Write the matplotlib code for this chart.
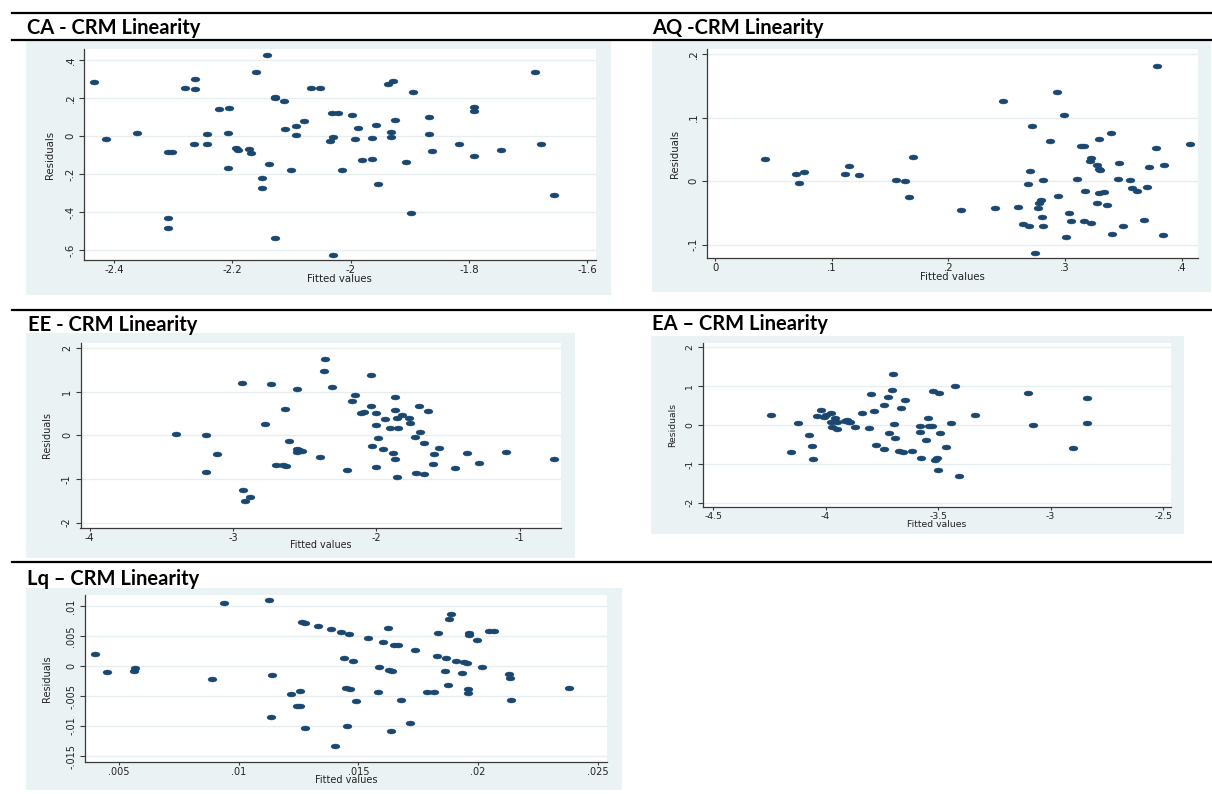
import numpy as np
import matplotlib
matplotlib.use("Agg")
import matplotlib.pyplot as plt
from matplotlib.path import Path
from matplotlib.patches import Rectangle
from matplotlib.lines import Line2D

# ---------------- data ----------------
ca_x = [-2.434, -2.413, -2.361, -2.308, -2.302, -2.308, -2.308, -2.280, -2.263, -2.263,
        -2.264, -2.242, -2.242, -2.222, -2.205, -2.207, -2.207, -2.193, -2.191, -2.171,
        -2.169, -2.159, -2.141, -2.138, -2.150, -2.150, -2.128, -2.127, -2.113, -2.110,
        -2.128, -2.101, -2.092, -2.092, -2.078, -2.067, -2.052, -2.031, -2.022, -2.030,
        -2.035, -2.030, -2.015, -1.997, -1.987, -1.993, -1.981, -1.964, -1.963, -1.957,
        -1.953, -1.937, -1.929, -1.931, -1.932, -1.925, -1.906, -1.898, -1.894, -1.867,
        -1.868, -1.863, -1.816, -1.791, -1.792, -1.791, -1.746, -1.688, -1.678, -1.656]
ca_y = [0.284, -0.016, 0.016, -0.084, -0.082, -0.430, -0.481, 0.253, 0.300, 0.247,
        -0.039, 0.012, -0.039, 0.144, 0.146, 0.018, -0.167, -0.060, -0.072, -0.068,
        -0.089, 0.337, 0.428, -0.146, -0.221, -0.272, 0.205, 0.198, 0.184, 0.037,
        -0.535, -0.177, 0.054, 0.004, 0.077, 0.254, 0.254, 0.119, 0.119, -0.004,
        -0.023, -0.623, -0.179, 0.111, 0.044, -0.016, -0.123, -0.121, -0.009, 0.060,
        -0.253, 0.275, 0.289, 0.023, -0.007, 0.084, -0.135, -0.404, 0.232, 0.100,
        0.009, -0.077, -0.042, 0.154, 0.130, -0.105, -0.074, 0.339, -0.039, -0.311]

aq_x = [0.043, 0.069, 0.076, 0.072, 0.111, 0.115, 0.123, 0.155, 0.163, 0.166,
        0.170, 0.211, 0.240, 0.247, 0.260, 0.264, 0.269, 0.268, 0.270, 0.272,
        0.274, 0.277, 0.278, 0.279, 0.280, 0.281, 0.281, 0.287, 0.293, 0.294,
        0.299, 0.301, 0.303, 0.305, 0.310, 0.314, 0.316, 0.316, 0.317, 0.321,
        0.322, 0.322, 0.327, 0.329, 0.330, 0.327, 0.329, 0.329, 0.333, 0.336,
        0.339, 0.340, 0.346, 0.345, 0.350, 0.356, 0.357, 0.362, 0.368, 0.370,
        0.372, 0.378, 0.379, 0.385, 0.384, 0.407]
aq_y = [0.035, 0.012, 0.014, -0.003, 0.012, 0.024, 0.010, 0.001, 0.000, -0.025,
        0.038, -0.045, -0.042, 0.126, -0.040, -0.067, -0.070, -0.004, 0.016, 0.087,
        -0.113, -0.043, -0.035, -0.030, -0.056, -0.070, 0.002, 0.063, 0.141, -0.023,
        0.104, -0.088, -0.050, -0.062, 0.003, 0.055, 0.056, -0.062, -0.015, 0.031,
        0.037, -0.066, 0.025, 0.019, 0.018, -0.034, 0.067, -0.018, -0.017, -0.038,
        0.076, -0.084, 0.029, 0.004, -0.071, 0.002, -0.011, -0.016, -0.061, -0.010,
        0.022, 0.052, 0.182, 0.025, -0.085, 0.058]

ee_x = [-3.398, -3.188, -3.188, -3.108, -2.939, -2.928, -2.917, -2.884, -2.776, -2.732,
        -2.699, -2.652, -2.627, -2.638, -2.608, -2.555, -2.552, -2.539, -2.517, -2.552,
        -2.392, -2.359, -2.362, -2.309, -2.202, -2.171, -2.146, -2.105, -2.083, -2.039,
        -2.039, -2.033, -2.003, -2.000, -1.992, -2.000, -1.956, -1.939, -1.903, -1.881,
        -1.873, -1.867, -1.867, -1.856, -1.851, -1.856, -1.823, -1.773, -1.768, -1.732,
        -1.727, -1.704, -1.696, -1.666, -1.669, -1.638, -1.599, -1.605, -1.566, -1.453,
        -1.367, -1.287, -1.099, -0.765]
ee_y = [0.038, 0.000, -0.840, -0.435, 1.191, -1.252, -1.504, -1.412, 0.260, 1.168,
        -0.687, -0.672, -0.702, 0.595, -0.122, -0.313, -0.382, -0.344, -0.351, 1.053,
        -0.504, 1.748, 1.466, 1.099, -0.794, 0.786, 0.931, 0.504, 0.542, 1.389,
        0.664, -0.237, 0.504, 0.237, -0.053, -0.725, -0.321, 0.382, 0.168, -0.412,
        -0.542, 0.885, 0.573, 0.389, 0.160, -0.962, 0.466, 0.397, 0.290, -0.038,
        -0.870, 0.664, 0.069, -0.176, -0.878, 0.557, -0.427, -0.649, -0.282, -0.748,
        -0.405, -0.634, -0.382, -0.550]

ea_x = [-4.244, -4.155, -4.121, -4.074, -4.059, -4.056, -4.037, -4.022, -4.005, -3.999,
        -3.977, -3.974, -3.970, -3.957, -3.950, -3.948, -3.913, -3.905, -3.896, -3.890,
        -3.871, -3.838, -3.809, -3.797, -3.784, -3.775, -3.740, -3.740, -3.723, -3.718,
        -3.707, -3.700, -3.695, -3.693, -3.673, -3.665, -3.656, -3.649, -3.614, -3.579,
        -3.579, -3.576, -3.552, -3.545, -3.540, -3.527, -3.524, -3.515, -3.505, -3.502,
        -3.495, -3.490, -3.463, -3.441, -3.423, -3.406, -3.334, -3.099, -3.079, -2.900,
        -2.838, -2.838]
ea_y = [0.257, -0.685, 0.051, -0.248, -0.548, -0.882, 0.231, 0.377, 0.214, 0.248,
        0.086, 0.308, -0.043, 0.188, 0.086, -0.094, 0.103, 0.120, 0.086, 0.086,
        -0.051, 0.308, -0.069, 0.797, 0.360, -0.514, 0.514, -0.608, 0.719, -0.197,
        0.891, 1.302, 0.017, -0.325, -0.677, 0.428, -0.694, 0.651, -0.668, -0.017,
        -0.188, -0.848, -0.385, 0.188, -0.017, -0.026, 0.865, -0.908, -0.857, -1.165,
        0.822, -0.214, -0.557, 0.051, 0.994, -1.310, 0.248, 0.814, -0.009, -0.591,
        0.685, 0.043]

lq_x = [0.00397, 0.00449, 0.00561, 0.00566, 0.00887, 0.00937, 0.01126, 0.01138, 0.01133, 0.01217,
        0.01245, 0.01257, 0.01257, 0.01266, 0.01276, 0.01278, 0.01333, 0.01386, 0.01404, 0.01428,
        0.01438, 0.01448, 0.01464, 0.01453, 0.01462, 0.01478, 0.01490, 0.01540, 0.01581, 0.01584,
        0.01602, 0.01622, 0.01627, 0.01641, 0.01636, 0.01650, 0.01664, 0.01679, 0.01715, 0.01738,
        0.01786, 0.01817, 0.01829, 0.01834, 0.01860, 0.01865, 0.01876, 0.01877, 0.01888, 0.01910,
        0.01932, 0.01941, 0.01953, 0.01957, 0.01957, 0.01963, 0.01963, 0.01996, 0.02017, 0.02044,
        0.02065, 0.02130, 0.02132, 0.02136, 0.02382]
lq_y = [0.00210, -0.00094, -0.00072, -0.00022, -0.00221, 0.01062, 0.01112, -0.00149, -0.00841, -0.00465,
        -0.00669, -0.00658, -0.00409, 0.00736, 0.00725, -0.01034, 0.00669, 0.00619, -0.01338, 0.00575,
        0.00133, -0.00360, -0.00387, -0.00996, 0.00542, 0.00088, -0.00586, 0.00465, -0.00437, -0.00017,
        0.00404, 0.00631, -0.00066, -0.00072, -0.01079, 0.00360, 0.00348, -0.00564, -0.00946, 0.00265,
        -0.00431, -0.00426, 0.00177, 0.00548, -0.00083, 0.00144, -0.00310, 0.00785, 0.00874, 0.00094,
        -0.00105, 0.00066, 0.00055, -0.00387, -0.00454, 0.00553, 0.00520, 0.00437, -0.00011, 0.00592,
        0.00592, -0.00122, -0.00199, -0.00570, -0.00371]

titles = ["CA - CRM Linearity", "AQ -CRM Linearity", "EE - CRM Linearity",
          "EA \u2013 CRM Linearity", "Lq \u2013 CRM Linearity"]

ca_xticks = [-2.4, -2.2, -2.0, -1.8, -1.6]
ca_xlabels = ["-2.4", "-2.2", "-2", "-1.8", "-1.6"]
ca_yticks = [0.4, 0.2, 0.0, -0.2, -0.4, -0.6]
ca_ylabels = [".4", ".2", "0", "-.2", "-.4", "-.6"]

aq_xticks = [0.0, 0.1, 0.2, 0.3, 0.4]
aq_xlabels = ["0", ".1", ".2", ".3", ".4"]
aq_yticks = [0.2, 0.1, 0.0, -0.1]
aq_ylabels = [".2", ".1", "0", "-.1"]

ee_xticks = [-4, -3, -2, -1]
ee_xlabels = ["-4", "-3", "-2", "-1"]
ee_yticks = [2, 1, 0, -1, -2]
ee_ylabels = ["2", "1", "0", "-1", "-2"]

ea_xticks = [-4.5, -4.0, -3.5, -3.0, -2.5]
ea_xlabels = ["-4.5", "-4", "-3.5", "-3", "-2.5"]
ea_yticks = [2, 1, 0, -1, -2]
ea_ylabels = ["2", "1", "0", "-1", "-2"]

lq_xticks = [0.005, 0.010, 0.015, 0.020, 0.025]
lq_xlabels = [".005", ".01", ".015", ".02", ".025"]
lq_yticks = [0.010, 0.005, 0.0, -0.005, -0.010, -0.015]
lq_ylabels = [".01", ".005", "0", "-.005", "-.01", "-.015"]

# ---------------- layout (pixels) ----------------
W, H = 1212, 794
NAVY = "#1a476f"
BG = "#eaf2f3"
GRID = "#e6eef0"
AXC = "#3a3a3a"

fig = plt.figure(figsize=(W / 100, H / 100), dpi=100)
fig.patch.set_facecolor("white")


def frac_box(l, t, r, b):
    return [l / W, 1 - b / H, (r - l) / W, (b - t) / H]


def hline(y, x0=12, x1=W):
    fig.add_artist(Line2D([x0 / W, x1 / W], [1 - y / H, 1 - y / H],
                          transform=fig.transFigure, color="black", lw=1.6))


def gray(l, t, r, b):
    fig.add_artist(Rectangle((l / W, 1 - b / H), (r - l) / W, (b - t) / H,
                             transform=fig.transFigure, facecolor=BG,
                             edgecolor="none", zorder=0))


theta = np.linspace(0, 2 * np.pi, 41)
ell = Path(np.column_stack([np.cos(theta), 0.56 * np.sin(theta)]), closed=True)


def panel(box, xs, ys, xlim, ylim, xt, xl, yt, yl, ylab_off, xlab_off, fs):
    font = dict(family="DejaVu Sans", size=fs, color="#222222")
    l, t, r, b = box
    ax = fig.add_axes(frac_box(l, t, r, b), zorder=2)
    ax.set_facecolor("white")
    ax.plot(xs, ys, linestyle="none", marker=ell, markersize=6.4,
            color=NAVY, markeredgecolor=NAVY, markeredgewidth=0.3, zorder=3)
    ax.set_xlim(*xlim)
    ax.set_ylim(*ylim)
    ax.set_xticks(xt)
    ax.set_xticklabels(xl, fontdict=font)
    ax.set_yticks(yt)
    ax.set_yticklabels(yl, fontdict=font, rotation=90, va="center")
    for s in ["top", "right"]:
        ax.spines[s].set_visible(False)
    for s in ["left", "bottom"]:
        ax.spines[s].set_color(AXC)
        ax.spines[s].set_linewidth(0.9)
    ax.tick_params(axis="x", length=2.4, width=0.8, color=AXC, pad=1.0)
    ax.tick_params(axis="y", length=3.7, width=0.8, color=AXC, pad=2.5)
    ax.yaxis.grid(True, color=GRID, lw=1.0, zorder=0)
    ax.set_axisbelow(True)
    ax.set_xlabel("Fitted values", fontdict=font, va="center")
    ax.set_ylabel("Residuals", fontdict=font, va="center")
    ax.xaxis.set_label_coords(0.5, -xlab_off / (b - t))
    ax.yaxis.set_label_coords(-ylab_off / (r - l), 0.5)
    return ax


# horizontal rules
hline(12.7)
hline(40)
hline(309.5)
hline(562)

# gray graph regions
gray(26, 41, 611, 295)
gray(651.5, 41, 1211, 292)
gray(26, 333, 575, 558)
gray(651, 336, 1184, 534)
gray(26, 588, 622, 790)

# titles
TFONT = dict(family="Lato", size=14.5, weight="bold", color="black")
fig.text(27 / W, 1 - 34.3 / H, titles[0], va="baseline", ha="left", fontdict=TFONT)
fig.text(652 / W, 1 - 34.0 / H, titles[1], va="baseline", ha="left", fontdict=TFONT)
fig.text(28 / W, 1 - 330.7 / H, titles[2], va="baseline", ha="left", fontdict=TFONT)
fig.text(652 / W, 1 - 330.0 / H, titles[3], va="baseline", ha="left", fontdict=TFONT)
fig.text(27 / W, 1 - 585.0 / H, titles[4], va="baseline", ha="left", fontdict=TFONT)

panel((84.3, 49, 595.5, 260), ca_x, ca_y, (-2.450, -1.586), (-0.651, 0.458),
      ca_xticks, ca_xlabels, ca_yticks, ca_ylabels, 34, 19, 7.3)
panel((707, 49, 1198, 258), aq_x, aq_y, (-0.007, 0.414), (-0.121, 0.208),
      aq_xticks, aq_xlabels, aq_yticks, aq_ylabels, 32, 19, 7.3)
panel((80.5, 343, 561, 528), ee_x, ee_y, (-4.063, -0.713), (-2.122, 2.115),
      ee_xticks, ee_xlabels, ee_yticks, ee_ylabels, 33.5, 17, 6.9)
panel((703, 343, 1170.5, 507), ea_x, ea_y, (-4.545, -2.467), (-2.107, 2.107),
      ea_xticks, ea_xlabels, ea_yticks, ea_ylabels, 30, 17.5, 6.7)
panel((85, 595, 606.7, 762), lq_x, lq_y, (0.00357, 0.02538), (-0.0160, 0.0119),
      lq_xticks, lq_xlabels, lq_yticks, lq_ylabels, 38, 18, 7.0)

fig.savefig("out.png", dpi=100, facecolor="white")
